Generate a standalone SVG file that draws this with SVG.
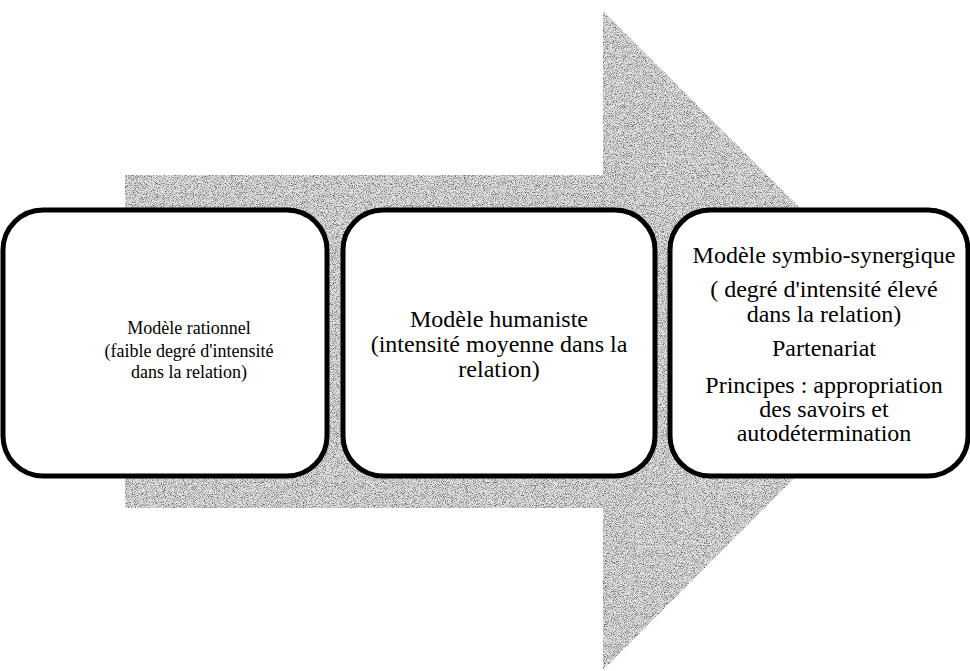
<svg xmlns="http://www.w3.org/2000/svg" width="970" height="671" viewBox="0 0 970 671">
<defs>
<filter id="grain" x="0" y="0" width="1" height="1" filterUnits="objectBoundingBox" color-interpolation-filters="sRGB">
<feTurbulence type="fractalNoise" baseFrequency="1.1" numOctaves="2" seed="7" result="t"/>
<feColorMatrix in="t" type="matrix" values="0 0 0 0 0  0 0 0 0 0  0 0 0 0 0  -1.6 0 0 0 0.9" result="d"/>
<feComposite in="d" in2="SourceGraphic" operator="in" result="dm"/>
<feMerge><feMergeNode in="SourceGraphic"/><feMergeNode in="dm"/></feMerge>
</filter>
<style>
.box{fill:#fff;stroke:#000;stroke-width:5}
.t{font-family:"Liberation Serif","Times New Roman",serif;font-size:24px;fill:#000;text-anchor:middle}
.t1{font-size:18px}
</style>
</defs>
<g id="arrow">
<polygon points="125,175 603,175 603,11 932,340 603,670 603,508 125,508" fill="#e2e2e2" filter="url(#grain)"/>
</g>
<g id="node1">
<rect class="box" x="3" y="210" width="324" height="266" rx="40" ry="40"/>
<text class="t t1" x="189" y="334">Modèle rationnel</text>
<text class="t t1" x="189" y="357">(faible degré d'intensité</text>
<text class="t t1" x="189" y="378">dans la relation)</text>
</g>
<g id="node2">
<rect class="box" x="343" y="210" width="312" height="266" rx="40" ry="40"/>
<text class="t" x="499" y="327">Modèle humaniste</text>
<text class="t" x="499" y="352">(intensité moyenne dans la</text>
<text class="t" x="499" y="377">relation)</text>
</g>
<g id="node3">
<rect class="box" x="670" y="210" width="298" height="266" rx="40" ry="40"/>
<text class="t" x="824" y="263">Modèle symbio-synergique</text>
<text class="t" x="824" y="297">( degré d'intensité élevé</text>
<text class="t" x="824" y="322">dans la relation)</text>
<text class="t" x="824" y="356">Partenariat</text>
<text class="t" x="824" y="393">Principes : appropriation</text>
<text class="t" x="824" y="417">des savoirs et</text>
<text class="t" x="824" y="441">autodétermination</text>
</g>
<g id="connectors"></g>
</svg>
